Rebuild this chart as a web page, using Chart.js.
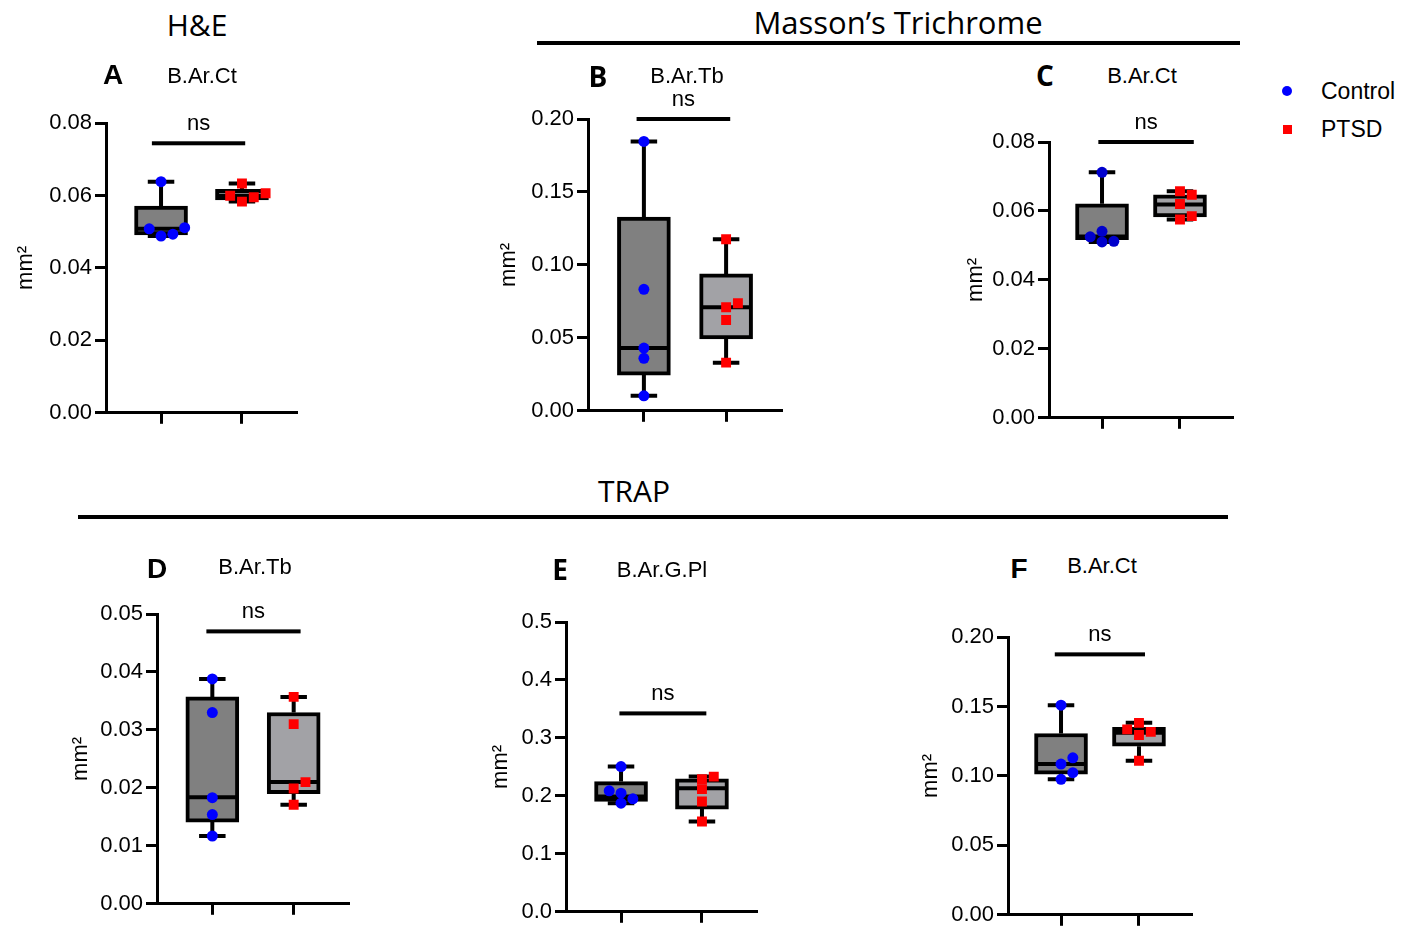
<!DOCTYPE html>
<html>
<head>
<meta charset="utf-8">
<script src="https://cdn.jsdelivr.net/npm/chart.js@4.4.0/dist/chart.umd.min.js"></script>
<style>
body{margin:0;background:#fff;width:1411px;height:926px;position:relative;overflow:hidden;font-family:"Liberation Sans",Arial,sans-serif}
canvas{position:absolute}
.t{position:absolute;transform:translate(-50%,-50%);white-space:nowrap;line-height:1;color:#000}
.head{font-family:"Open Sans",sans-serif;font-size:30px}
.let{font-size:28px;font-weight:bold}
.letc{font-family:"Open Sans",sans-serif;font-size:28px;font-weight:bold}
.sub{font-size:22px}
.rule{position:absolute;height:4px;background:#000}
.leg{position:absolute;font-size:23px;line-height:1;transform:translateY(-50%)}
</style>
</head>
<body>
<canvas id="cA"></canvas>
<canvas id="cB"></canvas>
<canvas id="cC"></canvas>
<canvas id="cD"></canvas>
<canvas id="cE"></canvas>
<canvas id="cF"></canvas>

<div class="t head" style="left:197px;top:25px">H&amp;E</div>
<div class="t head" style="left:898px;top:22px;font-size:31px">Masson’s Trichrome</div>
<div class="rule" style="left:537px;top:41px;width:703px"></div>
<div class="t head" style="left:634px;top:491px">TRAP</div>
<div class="rule" style="left:78px;top:515px;width:1150px"></div>

<div class="t let" style="left:113px;top:75px">A</div>
<div class="t letc" style="left:598px;top:76px">B</div>
<div class="t letc" style="left:1045px;top:75px">C</div>
<div class="t let" style="left:157px;top:569px">D</div>
<div class="t letc" style="left:560px;top:569px">E</div>
<div class="t let" style="left:1019px;top:569px">F</div>

<div class="t sub" style="left:202px;top:76px">B.Ar.Ct</div>
<div class="t sub" style="left:687px;top:76px">B.Ar.Tb</div>
<div class="t sub" style="left:1142px;top:76px">B.Ar.Ct</div>
<div class="t sub" style="left:255px;top:567px">B.Ar.Tb</div>
<div class="t sub" style="left:662px;top:570px">B.Ar.G.Pl</div>
<div class="t sub" style="left:1102px;top:566px">B.Ar.Ct</div>

<div style="position:absolute;left:1282px;top:86px;width:10px;height:10px;border-radius:50%;background:#0000ff"></div>
<div class="leg" style="left:1321px;top:91px">Control</div>
<div style="position:absolute;left:1283px;top:125px;width:9px;height:9px;background:#ff0000"></div>
<div class="leg" style="left:1321px;top:129px">PTSD</div>

<script>
var groups = ['Control', 'PTSD'];

// box = [min, q1, median, q3, max] for Control then PTSD
// A  H&E  B.Ar.Ct
var aControl = [0.0488, 0.0511, 0.0638, 0.0493, 0.0508];
var aPtsd = [0.0583, 0.0606, 0.0633, 0.0595, 0.0599];
var aBox = [[0.0488, 0.0491, 0.0508, 0.0571, 0.0638], [0.0583, 0.0588, 0.0599, 0.0617, 0.0633]];
var aNs = [0.887, 2.04, 0.0744];

// B  Masson  B.Ar.Tb
var bControl = [0.1846, 0.0833, 0.0430, 0.0360, 0.0103];
var bPtsd = [0.1176, 0.0710, 0.0737, 0.0622, 0.0330];
var bBox = [[0.0103, 0.0245, 0.0430, 0.1327, 0.1846], [0.0330, 0.0492, 0.0710, 0.0938, 0.1176]];
var bNs = [0.911, 2.05, 0.20];

// C  Masson  B.Ar.Ct
var cControl = [0.0712, 0.0510, 0.0525, 0.0541, 0.0512];
var cPtsd = [0.0657, 0.0647, 0.0620, 0.0575, 0.0585];
var cBox = [[0.0510, 0.0517, 0.0526, 0.0621, 0.0712], [0.0575, 0.0583, 0.0619, 0.0647, 0.0657]];
var cNs = [0.953, 2.177, 0.08];

// D  TRAP  B.Ar.Tb
var dControl = [0.0388, 0.0330, 0.0183, 0.0154, 0.0117];
var dPtsd = [0.0357, 0.0310, 0.0210, 0.0199, 0.0171];
var dBox = [[0.0117, 0.0141, 0.0184, 0.0357, 0.0388], [0.0171, 0.0190, 0.0210, 0.0330, 0.0357]];
var dNs = [0.927, 2.085, 0.047];

// E  TRAP  B.Ar.G.Pl
var eControl = [0.2505, 0.2087, 0.1875, 0.2047, 0.1949];
var ePtsd = [0.2333, 0.2288, 0.2116, 0.1903, 0.1559];
var eBox = [[0.1875, 0.1903, 0.1990, 0.2247, 0.2505], [0.1559, 0.1772, 0.2133, 0.2293, 0.2333]];
var eNs = [0.98, 2.054, 0.3423];

// F  TRAP  B.Ar.Ct
var fControl = [0.1509, 0.1085, 0.1130, 0.1023, 0.0975];
var fPtsd = [0.1335, 0.1294, 0.1382, 0.1317, 0.1109];
var fBox = [[0.0975, 0.1013, 0.1085, 0.1305, 0.1509], [0.1109, 0.1214, 0.1310, 0.1349, 0.1382]];
var fNs = [0.92, 2.077, 0.1875];

var X_MIN = 0.32, X_MAX = 2.68;
var PAD_TOP = 40, X_H = 16, PAD_R = 4;
var BOX_W = 53;
var FONT = '"Liberation Sans", Arial, sans-serif';

// spread points sideways where they would overlap (like a column scatter)
function swarm(values, center, pxX, pxY) {
    var order = values.map(function(v, i){ return i; }).sort(function(a, b){ return values[a] - values[b]; });
    var placed = [];
    var out = [];
    order.forEach(function(i){
        var v = values[i];
        var steps = [0, 1, -1, 2, -2, 3, -3];
        for (var k = 0; k < steps.length; k++) {
            var dx = steps[k] * 12;
            var ok = placed.every(function(p){
                return Math.hypot(dx - p.dx, (v - p.v) * pxY) >= 9.5;
            });
            if (ok) { placed.push({dx: dx, v: v}); out[i] = {x: center + dx / pxX, y: v}; return; }
        }
        out[i] = {x: center, y: v};
    });
    return out;
}

function makePanel(L, control, ptsd, box, ns, blue) {
    var yW = L.gap + 12;
    var cv = document.getElementById(L.id);
    var w = yW + (L.right - L.axisX) + PAD_R;
    var h = PAD_TOP + (L.bottom - L.top) + X_H;
    cv.width = w; cv.height = h;
    cv.style.left = (L.axisX - yW) + 'px';
    cv.style.top = (L.top - PAD_TOP) + 'px';
    var pxX = (L.right - L.axisX) / (X_MAX - X_MIN);
    var pxY = (L.bottom - L.top) / L.yMax;

    var parts = {
        id: 'boxParts',
        beforeDatasetDraw: function(chart, args) {
            if (args.index !== 0) return;
            var xs = chart.scales.x, ys = chart.scales.y, ctx = chart.ctx;
            ctx.save();
            ctx.strokeStyle = '#000';
            ctx.lineWidth = 4;
            box.forEach(function(b, i){
                var cx = xs.getPixelForValue(i + 1);
                var lo = ys.getPixelForValue(b[0]), hi = ys.getPixelForValue(b[4]);
                ctx.beginPath();
                ctx.moveTo(cx, lo); ctx.lineTo(cx, ys.getPixelForValue(b[1]));
                ctx.moveTo(cx, ys.getPixelForValue(b[3])); ctx.lineTo(cx, hi);
                ctx.moveTo(cx - BOX_W / 4, lo); ctx.lineTo(cx + BOX_W / 4, lo);
                ctx.moveTo(cx - BOX_W / 4, hi); ctx.lineTo(cx + BOX_W / 4, hi);
                ctx.stroke();
            });
            ctx.restore();
        },
        afterDatasetDraw: function(chart, args) {
            if (args.index !== 0) return;
            var xs = chart.scales.x, ys = chart.scales.y, ctx = chart.ctx;
            ctx.save();
            ctx.strokeStyle = '#000';
            ctx.lineWidth = 4;
            box.forEach(function(b, i){
                var cx = xs.getPixelForValue(i + 1);
                var m = ys.getPixelForValue(b[2]);
                ctx.beginPath();
                ctx.moveTo(cx - BOX_W / 2 + 2, m); ctx.lineTo(cx + BOX_W / 2 - 2, m);
                ctx.stroke();
            });
            ctx.restore();
        },
        afterDraw: function(chart) {
            var xs = chart.scales.x, ys = chart.scales.y, ctx = chart.ctx;
            var x1 = xs.getPixelForValue(ns[0]), x2 = xs.getPixelForValue(ns[1]);
            var yy = ys.getPixelForValue(ns[2]);
            ctx.save();
            ctx.fillStyle = '#000';
            ctx.fillRect(x1, yy - 2, x2 - x1, 4);
            ctx.font = '22px ' + FONT;
            ctx.textAlign = 'center';
            ctx.textBaseline = 'alphabetic';
            ctx.fillText('ns', (x1 + x2) / 2, yy - 13);
            ctx.restore();
        }
    };

    new Chart(cv.getContext('2d'), {
        type: 'scatter',
        data: {
            datasets: [{
                type: 'bar',
                label: 'box',
                data: box.map(function(b, i){ return {x: i + 1, y: [b[1], b[3]]}; }),
                backgroundColor: ['#808080', '#a2a2a6'],
                borderColor: '#000',
                borderWidth: 4,
                borderSkipped: false,
                barThickness: BOX_W,
                grouped: false,
                order: 1
            }, {
                label: groups[0],
                data: swarm(control, 1, pxX, pxY),
                pointStyle: 'circle',
                pointRadius: 5.5,
                pointBackgroundColor: blue,
                pointBorderWidth: 0,
                order: 0
            }, {
                label: groups[1],
                data: swarm(ptsd, 2, pxX, pxY),
                pointStyle: 'rect',
                pointRadius: 7,
                pointBackgroundColor: '#ff0000',
                pointBorderWidth: 0,
                order: 0
            }]
        },
        options: {
            responsive: false,
            animation: false,
            events: [],
            layout: {padding: {top: PAD_TOP, right: PAD_R, left: 0, bottom: 0}},
            plugins: {legend: {display: false}, tooltip: {enabled: false}},
            scales: {
                x: {
                    type: 'linear',
                    min: X_MIN,
                    max: X_MAX,
                    offset: false,
                    afterBuildTicks: function(s){ s.ticks = [{value: 1}, {value: 2}]; },
                    afterFit: function(s){ s.height = X_H; },
                    ticks: {display: false},
                    grid: {drawOnChartArea: false, drawTicks: true, tickLength: 11, tickWidth: 3, tickColor: '#000', offset: false},
                    border: {display: true, color: '#000', width: 3}
                },
                y: {
                    type: 'linear',
                    min: 0,
                    max: L.yMax,
                    afterFit: function(s){ s.width = yW; },
                    ticks: {
                        stepSize: L.step,
                        padding: 3,
                        color: '#000',
                        font: {family: FONT, size: 22},
                        callback: function(v){ return v.toFixed(L.dec); }
                    },
                    grid: {drawOnChartArea: false, drawTicks: true, tickLength: 11, tickWidth: 3, tickColor: '#000'},
                    border: {display: true, color: '#000', width: 3},
                    title: {
                        display: true,
                        text: 'mm²',
                        color: '#000',
                        padding: 0,
                        font: {family: FONT, size: 22, lineHeight: 1.2}
                    }
                }
            }
        },
        plugins: [parts]
    });
}

makePanel({id: 'cA', axisX: 106, top: 123, bottom: 413, right: 300, yMax: 0.08, step: 0.02, dec: 2, gap: 81}, aControl, aPtsd, aBox, aNs, '#0000ff');
makePanel({id: 'cB', axisX: 588, top: 119, bottom: 411, right: 785, yMax: 0.20, step: 0.05, dec: 2, gap: 80}, bControl, bPtsd, bBox, bNs, '#0000ff');
makePanel({id: 'cC', axisX: 1049, top: 142, bottom: 418, right: 1236, yMax: 0.08, step: 0.02, dec: 2, gap: 74}, cControl, cPtsd, cBox, cNs, '#0000cc');
makePanel({id: 'cD', axisX: 157, top: 614, bottom: 904, right: 352, yMax: 0.05, step: 0.01, dec: 2, gap: 77}, dControl, dPtsd, dBox, dNs, '#0000ff');
makePanel({id: 'cE', axisX: 566, top: 622, bottom: 912, right: 760, yMax: 0.5, step: 0.1, dec: 1, gap: 66}, eControl, ePtsd, eBox, eNs, '#0000ff');
makePanel({id: 'cF', axisX: 1008, top: 637, bottom: 915, right: 1195, yMax: 0.20, step: 0.05, dec: 2, gap: 78}, fControl, fPtsd, fBox, fNs, '#0000ff');
</script>
</body>
</html>
